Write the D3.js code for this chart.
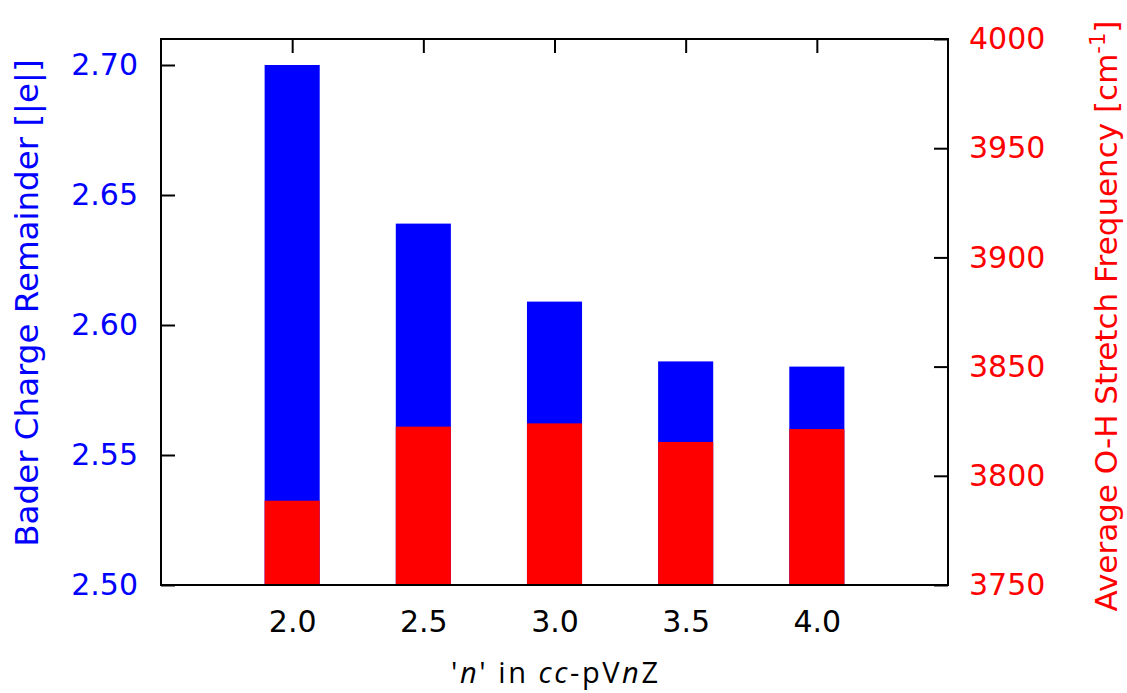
<!DOCTYPE html>
<html>
<head>
<meta charset="utf-8">
<script src="https://cdn.jsdelivr.net/npm/d3@7"></script>
<style>
    body { margin: 0; background: #fff; }
    .tick text { font-family: "DejaVu Sans", sans-serif; }
</style>
</head>
<body>
<div id="chart"></div>
<script>
// basis set cardinal number n
let nValues = [2.0, 2.5, 3.0, 3.5, 4.0];
// Bader charge remainder [|e|] (left axis, blue)
let baderCharge = [2.700, 2.639, 2.609, 2.586, 2.584];
// average O-H stretch frequency [cm^-1] (right axis, red)
let ohFreq = [3788.6, 3822.5, 3824.0, 3815.5, 3821.4];

let xTicks = [2.0, 2.5, 3.0, 3.5, 4.0];
let leftTicks = [2.50, 2.55, 2.60, 2.65, 2.70];
let rightTicks = [3750, 3800, 3850, 3900, 3950, 4000];

let margin = { top: 39, right: 179, bottom: 108, left: 161 };
let width = 1127 - margin.left - margin.right,
    height = 693 - margin.top - margin.bottom;

let svg = d3.select("#chart").append("svg")
    .attr("width", 1127)
    .attr("height", 693)
    .append("g")
    .attr("transform", "translate(" + margin.left + "," + margin.top + ")");

// scales
let x = d3.scaleLinear().domain([1.5, 4.5]).range([0, width]);
let yLeft = d3.scaleLinear().domain([2.50, 2.71]).range([height, 0]);
let yRight = d3.scaleLinear().domain([3750, 4000]).range([height, 0]);

let barWidth = x(2.21) - x(2.0);
let tickLen = 14;

// axes, ticks point inward like gnuplot
let xAxis = d3.axisBottom(x).tickValues(xTicks).tickFormat(d3.format(".1f"))
    .tickSizeInner(-tickLen).tickSizeOuter(0).tickPadding(tickLen + 12);
let xTop = d3.axisTop(x).tickValues(xTicks).tickFormat("")
    .tickSizeInner(-tickLen).tickSizeOuter(0);
let yAxisL = d3.axisLeft(yLeft).tickValues(leftTicks).tickFormat(d3.format(".2f"))
    .tickSizeInner(-tickLen).tickSizeOuter(0).tickPadding(tickLen + 9);
let yAxisR = d3.axisRight(yRight).tickValues(rightTicks).tickFormat(d3.format("d"))
    .tickSizeInner(-tickLen).tickSizeOuter(0).tickPadding(tickLen + 7);

function styleAxis(g, color) {
    g.select(".domain").remove();
    g.selectAll(".tick line").attr("stroke", "#000").attr("stroke-width", 2);
    g.selectAll(".tick text").attr("fill", color).style("font-size", "30px");
}

svg.append("g").attr("class", "x-axis")
    .attr("transform", "translate(0," + height + ")")
    .call(xAxis).call(g => styleAxis(g, "#000"));
svg.append("g").attr("class", "x-top").call(xTop).call(g => styleAxis(g, "#000"));
svg.append("g").attr("class", "y-left").call(yAxisL).call(g => styleAxis(g, "#0000ff"));
svg.append("g").attr("class", "y-right")
    .attr("transform", "translate(" + width + ",0)")
    .call(yAxisR).call(g => styleAxis(g, "#ff0000"));

// blue bars (Bader charge)
svg.selectAll(".bader-bar")
    .data(nValues)
    .enter()
    .append("rect").attr("class", "bader-bar")
    .attr("x", d => x(d) - barWidth / 2)
    .attr("y", (d, i) => yLeft(baderCharge[i]))
    .attr("width", barWidth)
    .attr("height", (d, i) => height - yLeft(baderCharge[i]))
    .attr("fill", "#0000ff");

// red bars (O-H frequency) drawn on top
svg.selectAll(".freq-bar")
    .data(nValues)
    .enter()
    .append("rect").attr("class", "freq-bar")
    .attr("x", d => x(d) - barWidth / 2)
    .attr("y", (d, i) => yRight(ohFreq[i]))
    .attr("width", barWidth)
    .attr("height", (d, i) => height - yRight(ohFreq[i]))
    .attr("fill", "#ff0000");

// frame
svg.append("rect")
    .attr("width", width)
    .attr("height", height)
    .attr("fill", "none")
    .attr("stroke", "#000")
    .attr("stroke-width", 2);

// axis titles
svg.append("text")
    .attr("transform", "translate(" + (-123) + "," + (height / 2 - 9) + ") rotate(-90)")
    .attr("text-anchor", "middle")
    .attr("fill", "#0000ff")
    .style("font-family", "DejaVu Sans, sans-serif")
    .style("font-size", "32.5px")
    .text("Bader Charge Remainder [|e|]");

let rTitle = svg.append("text")
    .attr("transform", "translate(" + (width + 169) + "," + (height / 2 + 4) + ") rotate(-90)")
    .attr("text-anchor", "middle")
    .attr("fill", "#ff0000")
    .style("font-family", "DejaVu Sans, sans-serif")
    .style("font-size", "31px");
rTitle.append("tspan").text("Average O-H Stretch Frequency [cm");
rTitle.append("tspan").attr("dy", -12).style("font-size", "21px").text("-1");
rTitle.append("tspan").attr("dy", 12).text("]");

let xTitle = svg.append("text")
    .attr("x", width / 2)
    .attr("y", height + 98)
    .attr("text-anchor", "middle")
    .attr("textLength", 207)
    .attr("lengthAdjust", "spacing")
    .attr("fill", "#000")
    .style("font-family", "Open Sans, sans-serif")
    .style("font-size", "29px");
xTitle.append("tspan").text("'");
xTitle.append("tspan").style("font-style", "italic").text("n");
xTitle.append("tspan").text("' in ");
xTitle.append("tspan").style("font-style", "italic").text("cc");
xTitle.append("tspan").text("-pV");
xTitle.append("tspan").style("font-style", "italic").text("n");
xTitle.append("tspan").text("Z");
</script>
</body>
</html>
